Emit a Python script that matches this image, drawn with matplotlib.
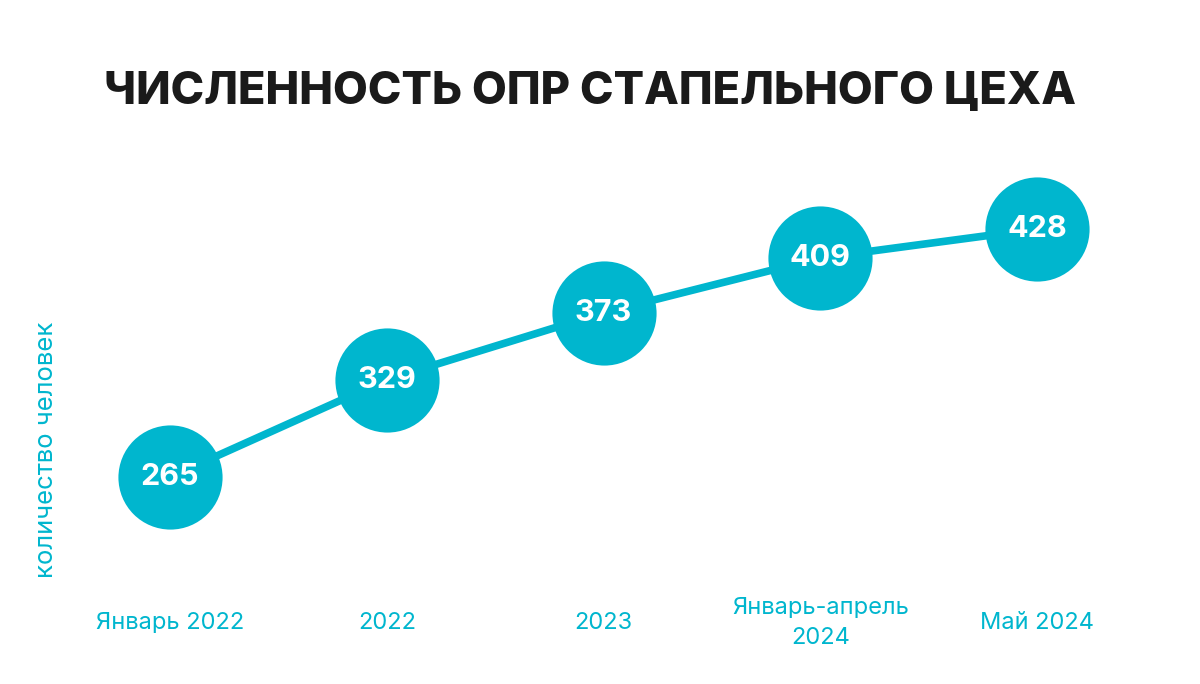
import matplotlib.pyplot as plt

# данные графика
periods = ['Январь 2022', '2022', '2023', 'Январь-апрель\n2024', 'Май 2024']
staff = [265, 329, 373, 409, 428]

teal = '#00B6CE'
plt.rcParams['font.family'] = ['Inter', 'DejaVu Sans']

fig = plt.figure(figsize=(12, 6.84), dpi=100)
fig.patch.set_facecolor('white')

# оси подогнаны так, чтобы центры кругов легли как на исходнике
ax = fig.add_axes([170 / 1200, 207 / 684, 867 / 1200, 248 / 684])
x = list(range(len(staff)))
ax.plot(x, staff, color=teal, lw=5.5, solid_capstyle='round', zorder=1, clip_on=False)
ax.plot(x, staff, 'o', color=teal, ms=75, mec='none', zorder=2, clip_on=False)
for xi, v in zip(x, staff):
    ax.text(xi, v, str(v), color='white', fontsize=22, fontweight='bold',
            ha='center', va='center', zorder=3)

ax.set_xlim(0, len(staff) - 1)
ax.set_ylim(min(staff), max(staff))
ax.axis('off')

# подписи периодов
for xi, lab in zip(x, periods):
    fig.text((170 + xi * 867 / 4) / 1200, 1 - 623 / 684, lab, color=teal,
             fontsize=17, ha='center', va='center', linespacing=1.45)

fig.text(47 / 1200, 1 - 450 / 684, 'количество человек', color=teal, fontsize=18.5,
         rotation=90, ha='center', va='center')

fig.text(590 / 1200, 1 - 92 / 684, 'ЧИСЛЕННОСТЬ ОПР СТАПЕЛЬНОГО ЦЕХА',
         color='#1a1a1a', fontsize=32.5, fontweight='heavy', ha='center', va='center')

plt.savefig('out.png', dpi=100, facecolor='white')
